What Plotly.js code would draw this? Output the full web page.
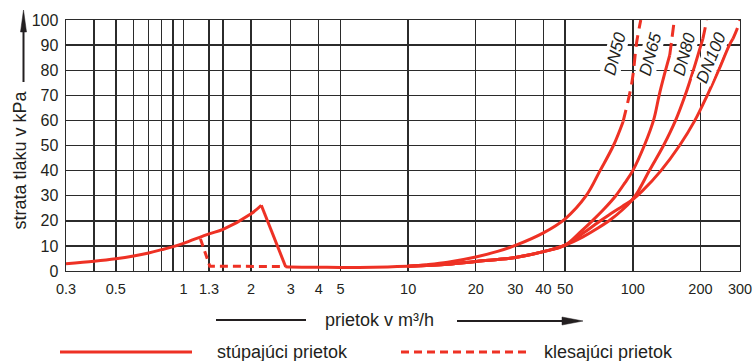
<!DOCTYPE html>
<html><head><meta charset="utf-8">
<script src="https://cdn.plot.ly/plotly-3.0.1.min.js"></script>
<style>html,body{margin:0;padding:0;background:#fff}#chart{width:754px;height:361px}</style>
</head><body><div id="chart"></div>
<script>
// ---- axes ----
const tickVals   = [0.3,0.5,1,1.3,2,3,4,5,10,20,30,40,50,100,200,300];
const tickLabels = ['0.3','0.5','1','1.3','2','3','4','5','10','20','30','40','50','100','200','300'];
const minorGridVals = [0.4,0.6,0.7,0.8,0.9,1.5];
const yTicks = [0,10,20,30,40,50,60,70,80,90,100];

// ---- rising flow (solid) ----
const riseLowX = [0.3,0.4,0.5,0.6,0.7,0.8,0.9,1,1.3,1.5,2,2.22];
const riseLowY = [2.9,3.9,4.9,6.0,7.2,8.5,9.7,11,14.8,16.6,22.8,26.2];
const dropX = [2.22,2.85];
const dropY = [26.2,1.7];
const flatX = [2.85,3,4,5,7,10];
const flatY = [1.7,1.6,1.5,1.4,1.5,1.9];
const dn50X = [10,12,15,20,25,30,40,50,62,71.5,82,90.5];
const dn50Y = [1.9,2.5,3.5,5.6,7.8,10.2,15.2,20.8,30,40,50,59.5];
const sharedX = [10,15,20,25,30,40,50];
const sharedY = [1.9,2.7,3.8,4.6,5.4,7.7,10.3];
const dn65X = [58,66,75,84,92,100,113,124,131,138,146];
const dn65Y = [15.3,20,25,30,35,40,50.4,60.4,70,78,86];
const dn80X = [60,70,80,90,99,106,118.5,137,155,171,186,201,205];
const dn80Y = [13.6,17.1,20.6,24.4,28.2,32,40,50,60,70,80,90,92.5];
const dn100X = [60,70,80,90,99,110,133.5,161.5,189,214.5,241,269,279];
const dn100Y = [15,19.3,22.9,25.8,28.2,31.8,40,50,60,70,80,90,92.5];

// ---- falling flow (dashed) ----
const fallLowX = [1.19,1.31,2.85];
const fallLowY = [12.8,1.9,1.8];
const dn50DashX = [90.5,99,104,108.5];
const dn50DashY = [59.5,75,91,100];
const dn65DashX = [146,149,153];
const dn65DashY = [86,92,100];
const dn80DashX = [205,209,213];
const dn80DashY = [92.5,96,100];
const dn100DashX = [279,290,300];
const dn100DashY = [92.5,96,100];

const labelsDN = ['DN50','DN65','DN80','DN100'];

const RED = '#ee3124';
const INK = '#231f20';
const GRID = '#2b2b2b';
const FONT = 'Liberation Sans, Arial, sans-serif';

function solid(x, y, name, shape){ return {type:'scatter', mode:'lines', x:x, y:y, name:name,
  line:{color:RED, width:3, shape:shape||'spline', smoothing:1}, hoverinfo:'skip', showlegend:false}; }
function dashed(x, y, name, dash, shape){ return {type:'scatter', mode:'lines', x:x, y:y, name:name,
  line:{color:RED, width:3, dash:dash, shape:shape||'spline', smoothing:1}, hoverinfo:'skip', showlegend:false}; }

const data = [
  solid(riseLowX, riseLowY, 'stúpajúci prietok'),
  solid(dropX, dropY, 'stúpajúci prietok', 'linear'),
  solid(flatX, flatY, 'stúpajúci prietok'),
  solid(dn50X, dn50Y, labelsDN[0]),
  solid(sharedX.concat(dn65X), sharedY.concat(dn65Y), labelsDN[1]),
  solid(sharedX.concat(dn80X), sharedY.concat(dn80Y), labelsDN[2]),
  solid(sharedX.concat(dn100X), sharedY.concat(dn100Y), labelsDN[3]),
  dashed(fallLowX, fallLowY, 'klesajúci prietok', '8px,5px', 'linear'),
  dashed(dn50DashX, dn50DashY, labelsDN[0], '12px,7px'),
  dashed(dn65DashX, dn65DashY, labelsDN[1], '12px,7px'),
  dashed(dn80DashX, dn80DashY, labelsDN[2], '12px,7px'),
  dashed(dn100DashX, dn100DashY, labelsDN[3], '12px,7px')
];

// pixel -> paper helpers for decorations (plot area 66..740 x 20..271)
const L = 66, R = 14, T = 20, B = 90, W = 754, H = 361;
const PW = W - L - R, PH = H - T - B;
const X = px => (px - L) / PW;
const Y = py => (H - B - py) / PH;

const shapes = [
  // knock out upper parts of the 100 and 200 vertical grid lines behind DN labels
  {type:'rect', layer:'between', xref:'paper', yref:'y', x0:X(627), x1:X(632), y0:73, y1:99.3, line:{width:0}, fillcolor:'#fff'},
  {type:'rect', layer:'between', xref:'paper', yref:'y', x0:X(695.5), x1:X(700.5), y0:73, y1:99.3, line:{width:0}, fillcolor:'#fff'},
  // y title arrow
  {type:'line', xref:'paper', yref:'paper', x0:X(23.5), x1:X(23.5), y0:Y(82), y1:Y(30), line:{color:INK, width:2}},
  {type:'path', xref:'paper', yref:'paper', path:'M'+X(20.5)+','+Y(32)+' L'+X(23.5)+','+Y(10)+' L'+X(26.5)+','+Y(32)+' Z', fillcolor:INK, line:{color:INK, width:0.5}},
  // x title line + arrow
  {type:'line', xref:'paper', yref:'paper', x0:X(216), x1:X(306), y0:Y(320), y1:Y(320), line:{color:INK, width:2}},
  {type:'line', xref:'paper', yref:'paper', x0:X(457), x1:X(566), y0:Y(321), y1:Y(321), line:{color:INK, width:2}},
  {type:'path', xref:'paper', yref:'paper', path:'M'+X(562)+','+Y(317)+' L'+X(583)+','+Y(321)+' L'+X(562)+','+Y(325)+' Z', fillcolor:INK, line:{color:INK, width:0.5}},
  // legend lines
  {type:'line', xref:'paper', yref:'paper', x0:X(60), x1:X(192), y0:Y(352), y1:Y(352), line:{color:RED, width:3}},
  {type:'line', xref:'paper', yref:'paper', x0:X(401), x1:X(531), y0:Y(352), y1:Y(352), line:{color:RED, width:3, dash:'8px,5px'}}
];

const annFont = {family:FONT, size:18, color:INK};
const dnFont = {family:FONT, size:17, color:INK, style:'italic'};
const annotations = [
  {xref:'paper', yref:'paper', x:X(19.5), y:Y(160), text:'strata tlaku v kPa', textangle:-90, showarrow:false, xanchor:'center', yanchor:'middle', font:annFont},
  {xref:'paper', yref:'paper', x:X(379), y:Y(320), text:'prietok v m³/h', showarrow:false, xanchor:'center', yanchor:'middle', font:annFont},
  {xref:'paper', yref:'paper', x:X(215), y:Y(352), text:'stúpajúci prietok', showarrow:false, xanchor:'left', yanchor:'middle', font:annFont},
  {xref:'paper', yref:'paper', x:X(542), y:Y(352), text:'klesajúci prietok', showarrow:false, xanchor:'left', yanchor:'middle', font:annFont},
  {xref:'paper', yref:'paper', x:X(614.5), y:Y(54), text:labelsDN[0], textangle:-75, showarrow:false, xanchor:'center', yanchor:'middle', font:dnFont, bgcolor:'#fff', borderpad:0},
  {xref:'paper', yref:'paper', x:X(650), y:Y(54), text:labelsDN[1], textangle:-75, showarrow:false, xanchor:'center', yanchor:'middle', font:dnFont, bgcolor:'#fff', borderpad:0},
  {xref:'paper', yref:'paper', x:X(684), y:Y(54), text:labelsDN[2], textangle:-75, showarrow:false, xanchor:'center', yanchor:'middle', font:dnFont, bgcolor:'#fff', borderpad:0},
  {xref:'paper', yref:'paper', x:X(711.5), y:Y(58), text:labelsDN[3], textangle:-68, showarrow:false, xanchor:'center', yanchor:'middle', font:dnFont, bgcolor:'#fff', borderpad:0}
];

const layout = {
  width:W, height:H,
  margin:{l:L, r:R, t:T, b:B, pad:0},
  paper_bgcolor:'#fff', plot_bgcolor:'#fff',
  showlegend:false, hovermode:false,
  font:{family:FONT, size:14, color:INK},
  xaxis:{type:'log', range:[Math.log10(tickVals[0]), Math.log10(tickVals[tickVals.length-1])],
    tickmode:'array', tickvals:tickVals, ticktext:tickLabels, ticks:'', ticklabelstandoff:4,
    tickfont:{family:FONT, size:14.5, color:INK},
    showgrid:true, gridcolor:GRID, gridwidth:1.4, zeroline:false,
    minor:{tickmode:'array', tickvals:minorGridVals, ticks:'', showgrid:true, gridcolor:GRID, gridwidth:1.4},
    showline:true, mirror:true, linecolor:GRID, linewidth:1.4, fixedrange:true},
  yaxis:{range:[0,100], tickmode:'array', tickvals:yTicks, ticks:'', ticklabelstandoff:3,
    tickfont:{family:FONT, size:16, color:INK},
    showgrid:true, gridcolor:GRID, gridwidth:1.4, zeroline:false,
    showline:true, mirror:true, linecolor:GRID, linewidth:1.4, fixedrange:true},
  shapes:shapes, annotations:annotations
};

Plotly.newPlot('chart', data, layout, {staticPlot:true, displayModeBar:false}).then(function(){
  // drop empty helper text nodes left behind after rendering
  document.querySelectorAll('svg text').forEach(function(t){
    if(!t.textContent || !t.textContent.replace(/[\s\u200b]/g,'')) t.parentNode.removeChild(t);
  });
});
</script>
</body></html>
